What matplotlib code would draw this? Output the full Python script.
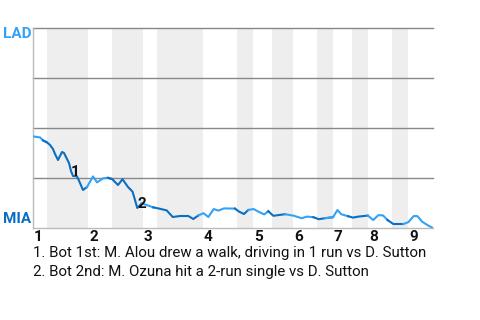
import matplotlib.pyplot as plt

plt.rcParams['font.family'] = ['Roboto', 'DejaVu Sans']

# play position along the game (0..400) and LAD win probability (%)
play_x = [0, 7, 10, 14, 17, 20, 22, 25, 29, 31, 33, 36, 38, 40, 44, 47, 50, 54,
          60, 64, 67, 70, 75, 79, 85, 89.5, 95, 99.5, 102, 104.3, 108.7, 113.7,
          120.3, 125.3, 133.7, 139.7, 147, 155.3, 160.3, 165.5, 170.5, 175.3,
          180.8, 185.3, 191, 202, 206, 211, 215.3, 220.5, 225.3, 231.3, 235.3,
          240.3, 252, 260.3, 268.7, 274, 280.3, 285.8, 292, 300, 304.5, 308.2,
          315, 320, 325.3, 334.8, 340.3, 345.3, 350, 354.5, 360.3, 370.3,
          375.3, 380.8, 384.5, 389, 395.3, 400]
lad_wp = [45.8, 45.3, 43.8, 42.8, 41.5, 39.5, 37.0, 34.0, 38.0, 37.5, 35.5, 32.5,
          28.5, 26.0, 25.8, 22.5, 19.0, 20.5, 25.8, 22.8, 23.8, 24.8, 25.1, 24.5,
          21.5, 24.4, 20.5, 18.2, 14.0, 10.0, 12.3, 11.5, 10.3, 9.8, 8.8, 5.5,
          6.0, 6.0, 4.5, 6.3, 7.4, 5.5, 9.5, 8.7, 9.8, 9.7, 8.2, 7.0, 9.0, 9.5,
          8.2, 6.8, 8.4, 6.1, 6.9, 6.2, 4.9, 5.7, 5.4, 4.4, 4.9, 5.4, 9.0, 6.9,
          5.9, 5.2, 5.7, 6.2, 4.0, 6.4, 6.3, 4.0, 2.0, 2.0, 2.9, 6.0, 5.9, 3.2,
          1.2, 0.0]

# half-inning boundaries (top starts at inning_start, bottom at bottom_start)
inning_start = [0, 55, 110, 170, 220, 260, 300, 335, 375]
bottom_start = [14, 79, 124, 204, 239, 284, 319, 359]
game_end = 400
inning_labels = ['1', '2', '3', '4', '5', '6', '7', '8', '9']

events = [
    (38, 26.0, '1', '1. Bot 1st: M. Alou drew a walk, driving in 1 run vs D. Sutton'),
    (104.3, 10.0, '2', '2. Bot 2nd: M. Ozuna hit a 2-run single vs D. Sutton'),
]

lad_color = '#33a2f6'
mia_color = '#0a6fc2'

fig = plt.figure(figsize=(4.8, 3.2), dpi=100)
ax = fig.add_axes([33 / 480, 92 / 320, 400 / 480, 200 / 320])
ax.set_xlim(0, game_end)
ax.set_ylim(0, 100)

# shaded bottom halves
bottom_end = inning_start[1:] + [game_end]
for s, e in zip(bottom_start, bottom_end):
    ax.axvspan(s, e, color='#eeeeee', lw=0, zorder=0)

for yv in [25, 50, 75, 100]:
    ax.axhline(yv, color='#888888', lw=1, zorder=1, clip_on=False)

# line coloured by batting team
halves = []
for i, s in enumerate(inning_start):
    if i < len(bottom_start):
        halves.append((s, bottom_start[i], lad_color))
        halves.append((bottom_start[i], bottom_end[i], mia_color))
    else:
        halves.append((s, game_end, lad_color))
for s, e, c in halves:
    xs, ys = [], []
    for j in range(len(play_x)):
        if s <= play_x[j] <= e:
            if not xs and j > 0:
                xs.append(play_x[j - 1])
                ys.append(lad_wp[j - 1])
            xs.append(play_x[j])
            ys.append(lad_wp[j])
    ax.plot(xs, ys, color=c, lw=1.5, zorder=3)

for x, y, lab, _ in events:
    ax.annotate(lab, (x, y), xytext=(0, 3), textcoords='offset points',
                ha='left', va='center', fontsize=11, fontweight='bold',
                color='#111111', zorder=4)

for sp in ['top', 'right']:
    ax.spines[sp].set_visible(False)
for sp in ['left', 'bottom']:
    ax.spines[sp].set_color('#bbbbbb')
    ax.spines[sp].set_linewidth(1)
ax.set_xticks([])
ax.set_yticks([])

for s, lab in zip(inning_start, inning_labels):
    ax.text(s + 1, -4.5, lab, ha='left', va='center', fontsize=11,
            fontweight='bold', color='#111111')

fig.text(3 / 480, 1 - 34 / 320, 'LAD', ha='left', va='center', fontsize=11,
         fontweight='bold', color=lad_color)
fig.text(3 / 480, 1 - 219 / 320, 'MIA', ha='left', va='center', fontsize=11,
         fontweight='bold', color=mia_color)

for k, ev in enumerate(events):
    fig.text(33 / 480, 1 - (253 + 19 * k) / 320, ev[3], ha='left', va='center',
             fontsize=10.8, color='#111111')

fig.savefig('out.png', dpi=100)
